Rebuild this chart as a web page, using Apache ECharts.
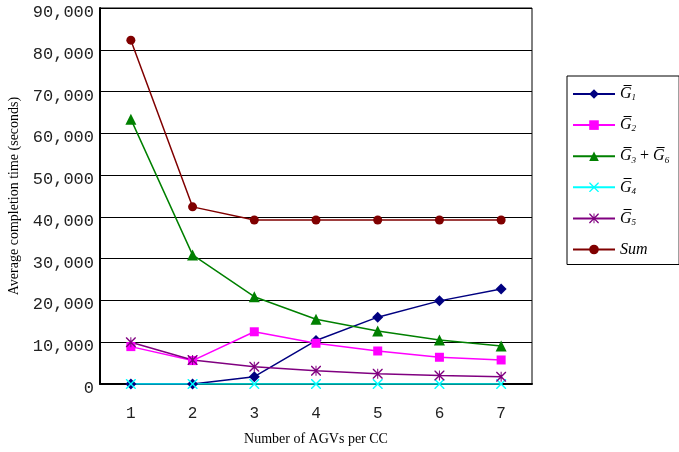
<!DOCTYPE html>
<html>
<head>
<meta charset="utf-8">
<script src="https://cdn.jsdelivr.net/npm/echarts@6/dist/echarts.min.js"></script>
<style>
  html, body { margin: 0; padding: 0; background: #fff; }
  #chart { width: 679px; height: 452px; }
</style>
</head>
<body>
<div id="chart"></div>
<script>
var categories = ['1', '2', '3', '4', '5', '6', '7'];
var g1 = [0, 0, 1750, 10400, 16000, 19900, 22750];
var g2 = [8950, 5600, 12500, 9750, 7900, 6400, 5750];
var g36 = [63400, 30900, 20900, 15500, 12700, 10550, 9100];
var g4 = [0, 0, 0, 0, 0, 0, 0];
var g5 = [10000, 5750, 4150, 3200, 2450, 2050, 1750];
var sum = [82300, 42400, 39250, 39250, 39250, 39250, 39250];

var crossPath = 'path://M0,0 L2,0 L10,8 L18,0 L20,0 L20,2 L12,10 L20,18 L20,20 L18,20 L10,12 L2,20 L0,20 L0,18 L8,10 L0,2 Z';
var starPath = 'path://M0,0 L2,0 L10,8 L18,0 L20,0 L20,2 L12,10 L20,18 L20,20 L18,20 L10,12 L2,20 L0,20 L0,18 L8,10 L0,2 Z M9,0 L11,0 L11,20 L9,20 Z';

var chart = echarts.init(document.getElementById('chart'));

function mkSeries(name, data, color, symbol, size) {
  return {
    name: name,
    type: 'line',
    data: data,
    symbol: symbol,
    symbolSize: size,
    showSymbol: true,
    lineStyle: { color: color, width: 1.5 },
    itemStyle: { color: color },
    animation: false
  };
}

var labels = {
  'G1': '{g|G\u0305}{s|1}',
  'G2': '{g|G\u0305}{s|2}',
  'G36': '{g|G\u0305}{s|3}{p| + }{g|G\u0305}{s|6}',
  'G4': '{g|G\u0305}{s|4}',
  'G5': '{g|G\u0305}{s|5}',
  'Sum': '{g|Sum}'
};

var option = {
  backgroundColor: '#fff',
  grid: {
    left: 100, right: 147, top: 8, bottom: 68,
    outerBoundsMode: 'none',
    show: true, borderColor: '#000', borderWidth: 1
  },
  legend: {
    orient: 'vertical',
    left: 567, top: 76,
    width: 100,
    padding: [10, 10, 7, 5],
    itemWidth: 42, itemHeight: 12, itemGap: 14.6,
    borderColor: '#000', borderWidth: 1,
    backgroundColor: '#fff',
    formatter: function (n) { return labels[n]; },
    textStyle: {
      rich: {
        g: { fontFamily: 'Liberation Serif', fontStyle: 'italic', fontSize: 16, color: '#000' },
        s: { fontFamily: 'Liberation Serif', fontStyle: 'italic', fontSize: 9, color: '#000', padding: [8, 0, 0, 0] },
        p: { fontFamily: 'Liberation Serif', fontSize: 16, color: '#000' }
      }
    },
    data: ['G1', 'G2', 'G36', 'G4', 'G5', 'Sum']
  },
  xAxis: {
    type: 'category',
    data: categories,
    boundaryGap: true,
    name: 'Number of AGVs per CC',
    nameLocation: 'middle',
    nameGap: 48,
    nameTextStyle: { fontFamily: 'Liberation Serif', fontSize: 14, color: '#000' },
    axisLine: { lineStyle: { color: '#000', width: 2 } },
    axisTick: { inside: true, length: 5, lineStyle: { color: '#000' } },
    axisLabel: { fontFamily: 'Liberation Mono', fontSize: 16, color: '#222', margin: 22 }
  },
  yAxis: {
    type: 'value',
    min: 0, max: 90000, interval: 10000,
    name: 'Average completion time (seconds)',
    nameLocation: 'middle',
    nameGap: 79,
    nameTextStyle: { fontFamily: 'Liberation Serif', fontSize: 14, color: '#000' },
    axisLine: { show: true, lineStyle: { color: '#000', width: 2 } },
    axisTick: { show: true, inside: true, length: 4, lineStyle: { color: '#000' } },
    splitLine: { lineStyle: { color: '#000', width: 1 } },
    axisLabel: {
      fontFamily: 'Liberation Mono', fontSize: 17, color: '#222', margin: 6,
      verticalAlign: 'top', lineHeight: 9,
      formatter: function (v) { return v.toLocaleString('en-US'); }
    }
  },
  series: [
    mkSeries('G1', g1, '#000080', 'diamond', 11),
    mkSeries('G2', g2, '#ff00ff', 'rect', 9),
    mkSeries('G36', g36, '#008000', 'triangle', 11),
    mkSeries('G4', g4, '#00ffff', crossPath, 10),
    mkSeries('G5', g5, '#800080', starPath, 10),
    mkSeries('Sum', sum, '#800000', 'circle', 9)
  ]
};
chart.setOption(option);
</script>
</body>
</html>
